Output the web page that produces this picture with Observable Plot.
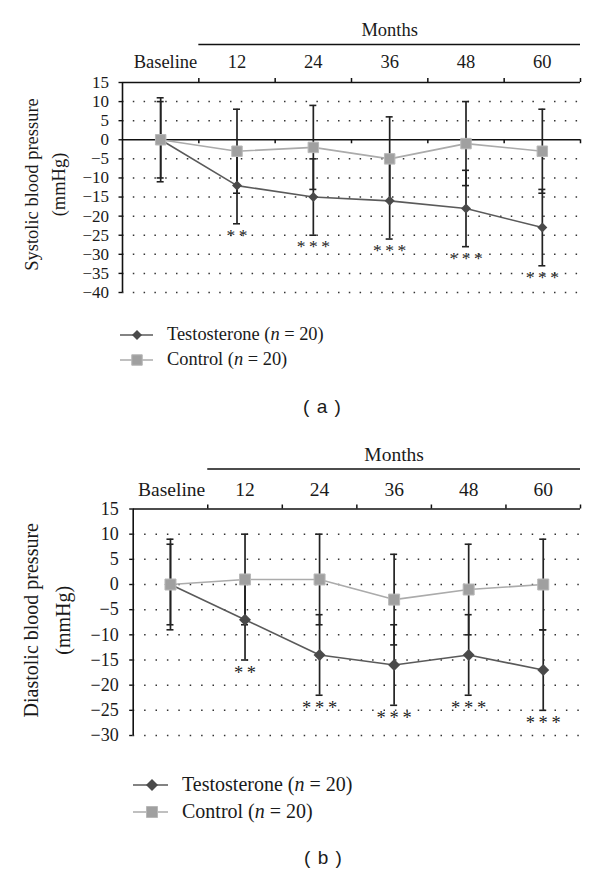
<!DOCTYPE html>
<html><head><meta charset="utf-8">
<script src="https://cdn.jsdelivr.net/npm/d3@7"></script>
<script src="https://cdn.jsdelivr.net/npm/@observablehq/plot@0.6"></script>
<style>
body{margin:0;background:#fff;}
#root{position:relative;width:600px;height:875px;font-family:"Liberation Serif","DejaVu Serif",serif;color:#1a1a1a;overflow:hidden;}
#root svg{position:absolute;left:0;}
.lbl{position:absolute;white-space:nowrap;line-height:1;font-family:"Liberation Serif","DejaVu Serif",serif;}
.cap{position:absolute;white-space:pre;font-family:"Liberation Sans","DejaVu Sans",sans-serif;line-height:1;word-spacing:2px;}
</style></head><body><div id="root"></div>
<script>
// ---- data ----
const categories = ["Baseline", "12", "24", "36", "48", "60"];
const groupLabel = "Months";
const seriesNames = ["Testosterone (<i>n</i> = 20)", "Control (<i>n</i> = 20)"];

const sbpTestosterone   = [0, -12, -15, -16, -18, -23];
const sbpTestosteroneSD = [10, 10, 10, 10, 10, 10];
const sbpControl        = [0, -3, -2, -5, -1, -3];
const sbpControlSD      = [11, 11, 11, 11, 11, 11];
const sbpStars          = ["", "**", "***", "***", "***", "***"];
const sbpTicks          = [15, 10, 5, 0, -5, -10, -15, -20, -25, -30, -35, -40];
const sbpLabel          = "Systolic blood pressure\n(mmHg)";

const dbpTestosterone   = [0, -7, -14, -16, -14, -17];
const dbpTestosteroneSD = [8, 8, 8, 8, 8, 8];
const dbpControl        = [0, 1, 1, -3, -1, 0];
const dbpControlSD      = [9, 9, 9, 9, 9, 9];
const dbpStars          = ["", "**", "***", "***", "***", "***"];
const dbpTicks          = [15, 10, 5, 0, -5, -10, -15, -20, -25, -30];
const dbpLabel          = "Diastolic blood pressure\n(mmHg)";

const SERIF = "Liberation Serif, DejaVu Serif, serif";
const INK = "#1a1a1a";
const T_LINE = "#5a5a5a", T_FILL = "#4a4a4a";
const C_LINE = "#ababab", C_FILL = "#a0a0a0", C_EDGE = "#b8b8b8";
const BAR = "#222";
const fmt = d3.format("d"); // uses the typographic minus sign

function panel(o) {
  const rows = categories.map((cat, i) => ({
    i, cat, t: o.t[i], tsd: o.tsd[i], c: o.c[i], csd: o.csd[i], star: o.stars[i]
  }));
  const ymax = d3.max(o.ticks), ymin = d3.min(o.ticks);
  const x0 = -0.5, xn = categories.length - 0.5;
  const bounds = categories.map((_, i) => i + 0.5);
  const grid = o.ticks.filter(v => v !== ymax && !(o.zeroAxis && v === 0));
  const bars = rows.flatMap(r => [
    {i: r.i, y1: r.t - r.tsd, y2: r.t + r.tsd},
    {i: r.i, y1: r.c - r.csd, y2: r.c + r.csd}
  ]);
  const caps = bars.flatMap(b => [{i: b.i, y: b.y1}, {i: b.i, y: b.y2}]);
  const monthIdx = d3.range(1, categories.length);
  const txt = {fontFamily: SERIF, fill: INK};
  return Plot.plot({
    width: 600, height: o.height,
    marginTop: o.marginTop, marginLeft: o.marginLeft, marginRight: 20, marginBottom: o.marginBottom,
    x: {domain: [x0, xn], axis: null},
    y: {domain: [ymin, ymax], axis: null},
    style: {fontFamily: SERIF, background: "transparent", overflow: "visible", color: INK},
    marks: [
      Plot.ruleY(grid, {stroke: "#333", strokeWidth: 1.5, strokeDasharray: o.dash, insetRight: o.gridExtra}),
      o.zeroAxis ? Plot.ruleY([0], {stroke: "#111", strokeWidth: 1.5}) : null,
      o.zeroAxis ? Plot.ruleX(bounds, {y1: 0, y2: 0, insetBottom: -4, stroke: "#111", strokeWidth: 1.5}) : null,
      Plot.ruleY([ymax], {stroke: "#111", strokeWidth: 1.6}),
      Plot.ruleX(bounds, {y1: ymax, y2: ymax, insetTop: -4, stroke: "#111", strokeWidth: 1.5}),
      Plot.ruleX([x0], {stroke: "#111", strokeWidth: 1.6}),
      // y ticks and tick labels
      Plot.ruleY(o.ticks, {y: d => d, x1: () => x0, x2: () => x0, insetLeft: -3.5, stroke: "#111", strokeWidth: 1.4}),
      Plot.text(o.ticks, {y: d => d, text: d => fmt(d), frameAnchor: "left", textAnchor: "end", lineAnchor: "middle",
        dx: -(3.5 + o.tickPadding), fontSize: o.tickFont, ...txt}),
      // category labels
      Plot.text(monthIdx, {x: d => d, text: d => categories[d], frameAnchor: "top", lineAnchor: "middle", dy: o.catDy, fontSize: o.catFont, ...txt}),
      Plot.text([0], {x: d => d + 0.5, text: d => categories[d], frameAnchor: "top", lineAnchor: "middle", dy: o.catDy, dx: o.baseDx, textAnchor: "end", fontSize: o.catFont, ...txt}),
      Plot.text([groupLabel], {x: () => d3.mean(monthIdx), frameAnchor: "top", lineAnchor: "middle", dy: o.monthDy, fontSize: o.catFont, ...txt}),
      Plot.ruleY([ymax], {x1: () => monthIdx[0] - 0.5, x2: () => monthIdx[monthIdx.length - 1] + 0.5, dy: o.monthLineDy, stroke: "#111", strokeWidth: 1.4}),
      // y label
      Plot.text([o.ylabel], {frameAnchor: "left", textAnchor: "middle", lineAnchor: "middle", dx: o.ylabelDx, dy: o.ylabelDy, rotate: -90,
        fontSize: o.ylabelFont, lineHeight: o.ylabelLH, ...txt}),
      // error bars
      Plot.ruleX(bars, {x: "i", y1: "y1", y2: "y2", stroke: BAR, strokeWidth: 1.7}),
      Plot.ruleY(caps, {y: "y", x1: "i", x2: "i", insetLeft: -3.5, insetRight: -3.5, stroke: BAR, strokeWidth: 1.6}),
      // lines
      Plot.line(rows, {x: "i", y: "c", stroke: C_LINE, strokeWidth: 1.6}),
      Plot.line(rows, {x: "i", y: "t", stroke: T_LINE, strokeWidth: 1.6}),
      Plot.dot(rows, {x: "i", y: "t", symbol: "diamond2", r: o.dR, fill: T_FILL, stroke: "none"}),
      Plot.dot(rows, {x: "i", y: "c", symbol: "square", r: o.sR, fill: C_FILL, stroke: C_EDGE, strokeWidth: 1}),
      // significance
      Plot.text(rows.filter(r => r.star), {x: "i", y: r => r.t - r.tsd, text: r => r.star.split("").join("\u2009"),
        lineAnchor: "middle", dy: o.starDy, fontSize: o.starFont, ...txt, fill: "#222"})
    ]
  });
}

const root = document.getElementById("root");

const a = panel({
  t: sbpTestosterone, tsd: sbpTestosteroneSD, c: sbpControl, csd: sbpControlSD, stars: sbpStars,
  ticks: sbpTicks, ylabel: sbpLabel, zeroAxis: true,
  height: 300, marginTop: 82, marginBottom: 8, marginLeft: 122,
  dash: "1.5,9.3", gridExtra: 0, tickPadding: 10, tickFont: 17,
  catDy: -20, catFont: 18.5, baseDx: -1.5, monthDy: -52, monthLineDy: -38,
  ylabelDx: -80, ylabelDy: -3, ylabelFont: 18.5, ylabelLH: 1.46,
  dR: 4.5, sR: 5.9, starDy: 11.5, starFont: 17.5
});
a.style.top = "0px";
root.appendChild(a);

const b = panel({
  t: dbpTestosterone, tsd: dbpTestosteroneSD, c: dbpControl, csd: dbpControlSD, stars: dbpStars,
  ticks: dbpTicks, ylabel: dbpLabel, zeroAxis: false,
  height: 325, marginTop: 88.5, marginBottom: 10, marginLeft: 132.7,
  dash: "1.5,9.9", gridExtra: -4, tickPadding: 11, tickFont: 18,
  catDy: -19, catFont: 19.5, baseDx: -2.5, monthDy: -54.5, monthLineDy: -40,
  ylabelDx: -89, ylabelDy: -2, ylabelFont: 20, ylabelLH: 1.6,
  dR: 5.4, sR: 6.2, starDy: 13, starFont: 18.5
});
b.style.top = "420px";
root.appendChild(b);

// ---- legends (HTML, below each chart) ----
function legend(o) {
  const items = [
    {name: seriesNames[0], y: o.y[0], sym: d3.symbolDiamond2, size: o.dSize, stroke: T_LINE, fill: T_FILL, edge: "none"},
    {name: seriesNames[1], y: o.y[1], sym: d3.symbolSquare, size: o.sSize, stroke: C_LINE, fill: C_FILL, edge: C_EDGE}
  ];
  for (const it of items) {
    const w = o.x1 - o.x0;
    const s = d3.create("svg").attr("width", w + 10).attr("height", 20)
      .style("left", (o.x0 - 5) + "px").style("top", (it.y - 10) + "px");
    s.append("line").attr("x1", 5).attr("x2", w + 5).attr("y1", 10).attr("y2", 10)
      .attr("stroke", it.stroke).attr("stroke-width", 1.6);
    s.append("path").attr("transform", `translate(${o.mx - o.x0 + 5},10)`)
      .attr("d", d3.symbol(it.sym, it.size)()).attr("fill", it.fill).attr("stroke", it.edge);
    root.appendChild(s.node());
    const d = document.createElement("div");
    d.className = "lbl";
    d.style.left = o.tx + "px";
    d.style.top = (it.y - o.fs * 0.55) + "px";
    d.style.fontSize = o.fs + "px";
    d.innerHTML = it.name;
    root.appendChild(d);
  }
  const c = document.createElement("div");
  c.className = "cap";
  c.style.fontSize = o.capFs + "px";
  c.textContent = o.cap;
  root.appendChild(c);
  const cw = c.getBoundingClientRect().width;
  c.style.left = (o.capX - cw / 2) + "px";
  c.style.top = (o.capY - o.capFs * 0.55) + "px";
}

legend({y: [335, 360], x0: 120, x1: 153, mx: 137, tx: 167, fs: 18.4, dSize: 64, sSize: 110,
        cap: "( a )", capX: 322, capY: 407, capFs: 19});
legend({y: [785, 811.5], x0: 133, x1: 168, mx: 152, tx: 182, fs: 20, dSize: 92, sSize: 121,
        cap: "( b )", capX: 323, capY: 858, capFs: 19});
</script></body></html>
